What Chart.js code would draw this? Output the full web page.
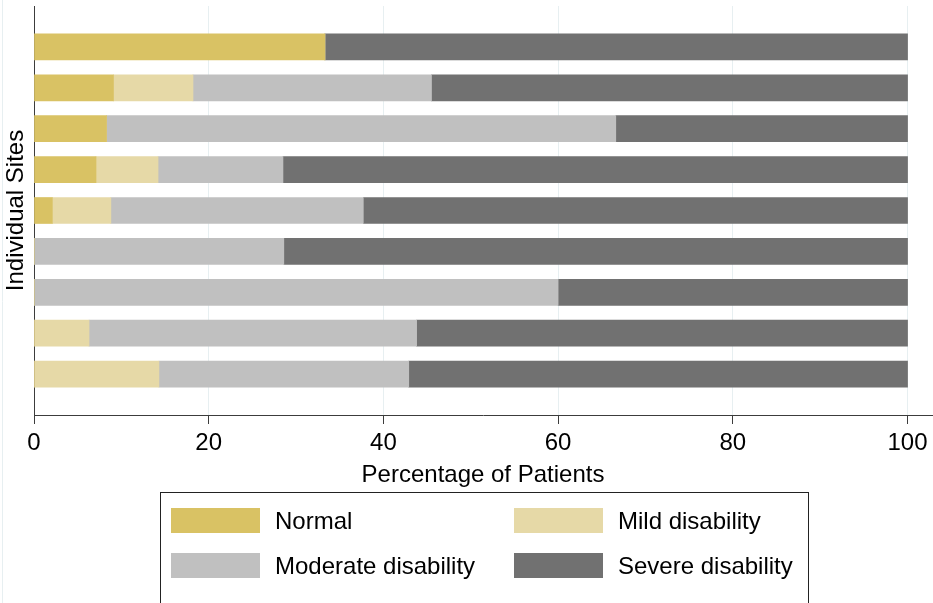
<!DOCTYPE html>
<html>
<head>
<meta charset="utf-8">
<script src="https://cdn.jsdelivr.net/npm/chart.js@4.4.1/dist/chart.umd.min.js"></script>
<style>
  html, body { margin: 0; padding: 0; background: #fff; }
  #wrap { width: 933px; height: 603px; }
</style>
</head>
<body>
<div id="wrap"><canvas id="chart" width="933" height="603"></canvas></div>
<script>
const sites = ['Site 1', 'Site 2', 'Site 3', 'Site 4', 'Site 5', 'Site 6', 'Site 7', 'Site 8', 'Site 9'];
const normal = [33.3, 9.1, 8.3, 7.1, 2.1, 0, 0, 0, 0];
const mild = [0, 9.1, 0, 7.1, 6.7, 0, 0, 6.3, 14.3];
const moderate = [0, 27.3, 58.3, 14.3, 28.9, 28.6, 60.0, 37.5, 28.6];
const severe = [66.7, 54.5, 33.4, 71.5, 62.3, 71.4, 40.0, 56.2, 57.1];
const xTicks = [0, 20, 40, 60, 80, 100];

const FONT = '"Liberation Sans", Arial, sans-serif';
const AXIS = '#3c3c3c';
const GRID = '#e7eff1';

// one empty slot above and below the sites, like the original
const pad = (arr) => [null, ...arr, null];
const labels = ['', ...sites, ''];

// legend drawn as a boxed 2x2 grid under the axis title
const boxLegend = {
  id: 'boxLegend',
  afterDraw(chart) {
    const ctx = chart.ctx;
    ctx.save();
    ctx.strokeStyle = '#222';
    ctx.lineWidth = 1;
    ctx.strokeRect(160.5, 492.5, 648, 140);
    const cols = [171, 514];
    const rows = [508, 553];
    ctx.font = '24px ' + FONT;
    ctx.textBaseline = 'middle';
    chart.data.datasets.forEach((ds, i) => {
      const x = cols[i % 2];
      const y = rows[Math.floor(i / 2)];
      ctx.fillStyle = ds.backgroundColor;
      ctx.fillRect(x, y, 89, 25);
      ctx.fillStyle = '#000';
      ctx.fillText(ds.label, x + 104, y + 14);
    });
    ctx.restore();
  },
  beforeDraw(chart) {
    const ctx = chart.ctx;
    ctx.save();
    ctx.strokeStyle = GRID;
    ctx.beginPath();
    ctx.moveTo(2.5, 0);
    ctx.lineTo(2.5, 603);
    ctx.stroke();
    ctx.restore();
  },
};

const ctx = document.getElementById('chart').getContext('2d');
new Chart(ctx, {
  type: 'bar',
  data: {
    labels: labels,
    datasets: [
      { label: 'Normal', data: pad(normal), backgroundColor: '#d9c264' },
      { label: 'Mild disability', data: pad(mild), backgroundColor: '#e6d9a7' },
      { label: 'Moderate disability', data: pad(moderate), backgroundColor: '#c0c0c0' },
      { label: 'Severe disability', data: pad(severe), backgroundColor: '#717171' },
    ],
  },
  options: {
    indexAxis: 'y',
    responsive: false,
    animation: false,
    datasets: { bar: { barThickness: 26, borderWidth: 0 } },
    layout: { padding: { top: 6, right: 1, left: 0, bottom: 113 } },
    plugins: {
      legend: { display: false },
      tooltip: { enabled: false },
    },
    scales: {
      x: {
        type: 'linear',
        stacked: true,
        min: 0,
        max: 102.8,
        afterBuildTicks: (scale) => { scale.ticks = xTicks.map((v) => ({ value: v })); },
        afterFit: (scale) => { scale.height = 75; },
        grid: { color: GRID, tickColor: AXIS, tickLength: 9, drawTicks: true },
        border: { display: true, color: AXIS, width: 1 },
        ticks: { color: '#000', font: { family: FONT, size: 24 }, padding: 5, maxRotation: 0 },
        title: {
          display: true,
          text: 'Percentage of Patients',
          color: '#000',
          font: { family: FONT, size: 24 },
          padding: { top: 0, bottom: 0 },
        },
      },
      y: {
        type: 'category',
        stacked: true,
        offset: false,
        afterFit: (scale) => { scale.width = 34; },
        grid: { display: false, drawTicks: false },
        border: { display: true, color: AXIS, width: 1 },
        ticks: { display: false },
        title: {
          display: true,
          text: 'Individual Sites',
          color: '#000',
          font: { family: FONT, size: 24 },
          padding: { top: 2, bottom: 0 },
        },
      },
    },
  },
  plugins: [boxLegend],
});
</script>
</body>
</html>
